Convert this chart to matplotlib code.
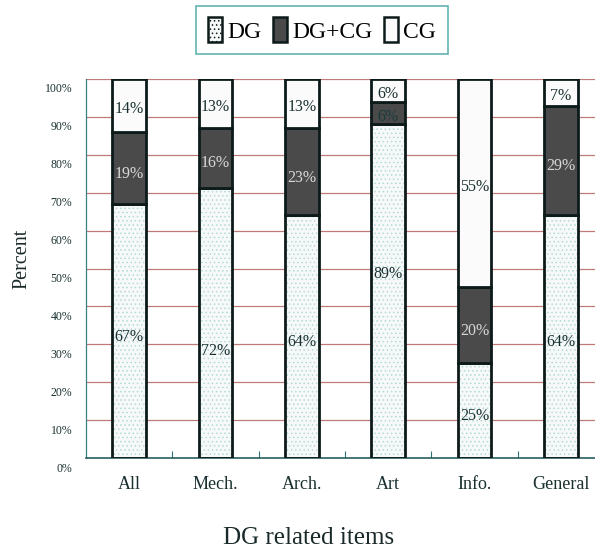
import matplotlib
matplotlib.use("Agg")
import matplotlib.pyplot as plt
import numpy as np
from matplotlib.transforms import ScaledTranslation
from matplotlib.patches import Patch

categories = ["All", "Mech.", "Arch.", "Art", "Info.", "General"]
dg = [67, 72, 64, 89, 25, 64]
dgcg = [19, 16, 23, 6, 20, 29]
cg = [14, 13, 13, 6, 55, 7]
yticks = [0, 10, 20, 30, 40, 50, 60, 70, 80, 90, 100]
ytick_labels = [f"{v}%" for v in yticks]

plt.rcParams['font.family'] = ['Liberation Serif', 'DejaVu Serif']
plt.rcParams['hatch.linewidth'] = 0.6

fig = plt.figure(figsize=(5.95, 5.57), dpi=100)
ax = fig.add_axes([86/595, 1-458/557, (604-86)/595, (458-79)/557])

x = np.arange(len(categories))
tot = np.array(dg) + np.array(dgcg) + np.array(cg)
s_dg = np.array(dg) / tot * 100
s_dgcg = np.array(dgcg) / tot * 100
s_cg = np.array(cg) / tot * 100
w = 0.39

grid_col = '#c07a7a'
for yv in yticks:
    ax.axhline(yv, color=grid_col, lw=0.9, zorder=0)

# DG: dotted fill
ax.bar(x, s_dg, w, color='#f7f9f9', edgecolor='#b4dada', hatch='....', linewidth=0, zorder=2)
ax.bar(x, s_dg, w, fill=False, edgecolor='#0d1a1a', linewidth=2, zorder=3)
ax.bar(x, s_dgcg, w, bottom=s_dg, color='#4a4a4a', edgecolor='#0d1a1a', linewidth=2, zorder=3)
ax.bar(x, s_cg, w, bottom=s_dg + s_dgcg, color='#fbfbfb', edgecolor='#0d1a1a', linewidth=2, zorder=3)

# label placement tweaks (in axis percent units) for the DG segment labels
dg_shift = [0, -6, 0, 6, 0, 0]

fs = 11.5
for i in range(len(categories)):
    ax.text(x[i], s_dg[i] / 2 - 1.5 + dg_shift[i], f"{dg[i]}%", ha='center', va='center', fontsize=fs, color='#1a3030', zorder=5)
    c2 = '#d8d8d8' if dgcg[i] >= 10 else '#1a3a3a'
    ax.text(x[i], s_dg[i] + s_dgcg[i] / 2 - 1.5 + (0 if dgcg[i] >= 10 else 0.5), f"{dgcg[i]}%", ha='center', va='center', fontsize=fs, color=c2, zorder=5)
    ax.text(x[i], s_dg[i] + s_dgcg[i] + s_cg[i] / 2 - 1.0, f"{cg[i]}%", ha='center', va='center', fontsize=fs, color='#1a3030', zorder=5)

ax.set_xlim(-0.5, len(categories) - 0.5)
ax.set_ylim(0, 100)
ax.set_yticks(yticks)
ax.set_yticklabels(ytick_labels, fontsize=8.5, color='#1a3030')
ax.tick_params(axis='y', length=0, pad=10)
for lab in ax.get_yticklabels():
    lab.set_transform(lab.get_transform() + ScaledTranslation(0, -9/100, fig.dpi_scale_trans))

ax.set_xticks(x)
ax.set_xticklabels(categories, fontsize=13, color='#1a3030')
ax.tick_params(axis='x', length=0, pad=13)
ax.set_xticks(x[:-1] + 0.5, minor=True)
ax.tick_params(axis='x', which='minor', direction='in', length=5, color='#307070', width=0.8)

for side in ['top', 'right']:
    ax.spines[side].set_visible(False)
ax.spines['left'].set_color('#3a8080')
ax.spines['bottom'].set_color('#2a6060')
ax.spines['left'].set_linewidth(0.9)
ax.spines['bottom'].set_linewidth(1.2)

fig.text(309/595, 1-538/557, "DG related items", ha='center', va='center', fontsize=18, color='#1a2a2a')
fig.text(22/595, 1-259/557, "Percent", ha='center', va='center', rotation=90, fontsize=14.5, color='#1a2a2a')

handles = [
    Patch(facecolor='#f7f9f9', edgecolor='#0d1a1a', hatch='....', linewidth=1.8, label='DG'),
    Patch(facecolor='#4a4a4a', edgecolor='#0d1a1a', linewidth=1.8, label='DG+CG'),
    Patch(facecolor='#fbfbfb', edgecolor='#0d1a1a', linewidth=1.8, label='CG'),
]
leg = fig.legend(handles=handles, loc='center', bbox_to_anchor=(322/595, 1-30/557), ncol=3,
                 fontsize=17, frameon=True, fancybox=False, edgecolor='#3aa0a0',
                 handlelength=0.6, handleheight=1.2, handletextpad=0.2, columnspacing=0.5,
                 borderpad=0.5)
leg.get_frame().set_linewidth(1.2)

fig.savefig("out.png", dpi=100)
